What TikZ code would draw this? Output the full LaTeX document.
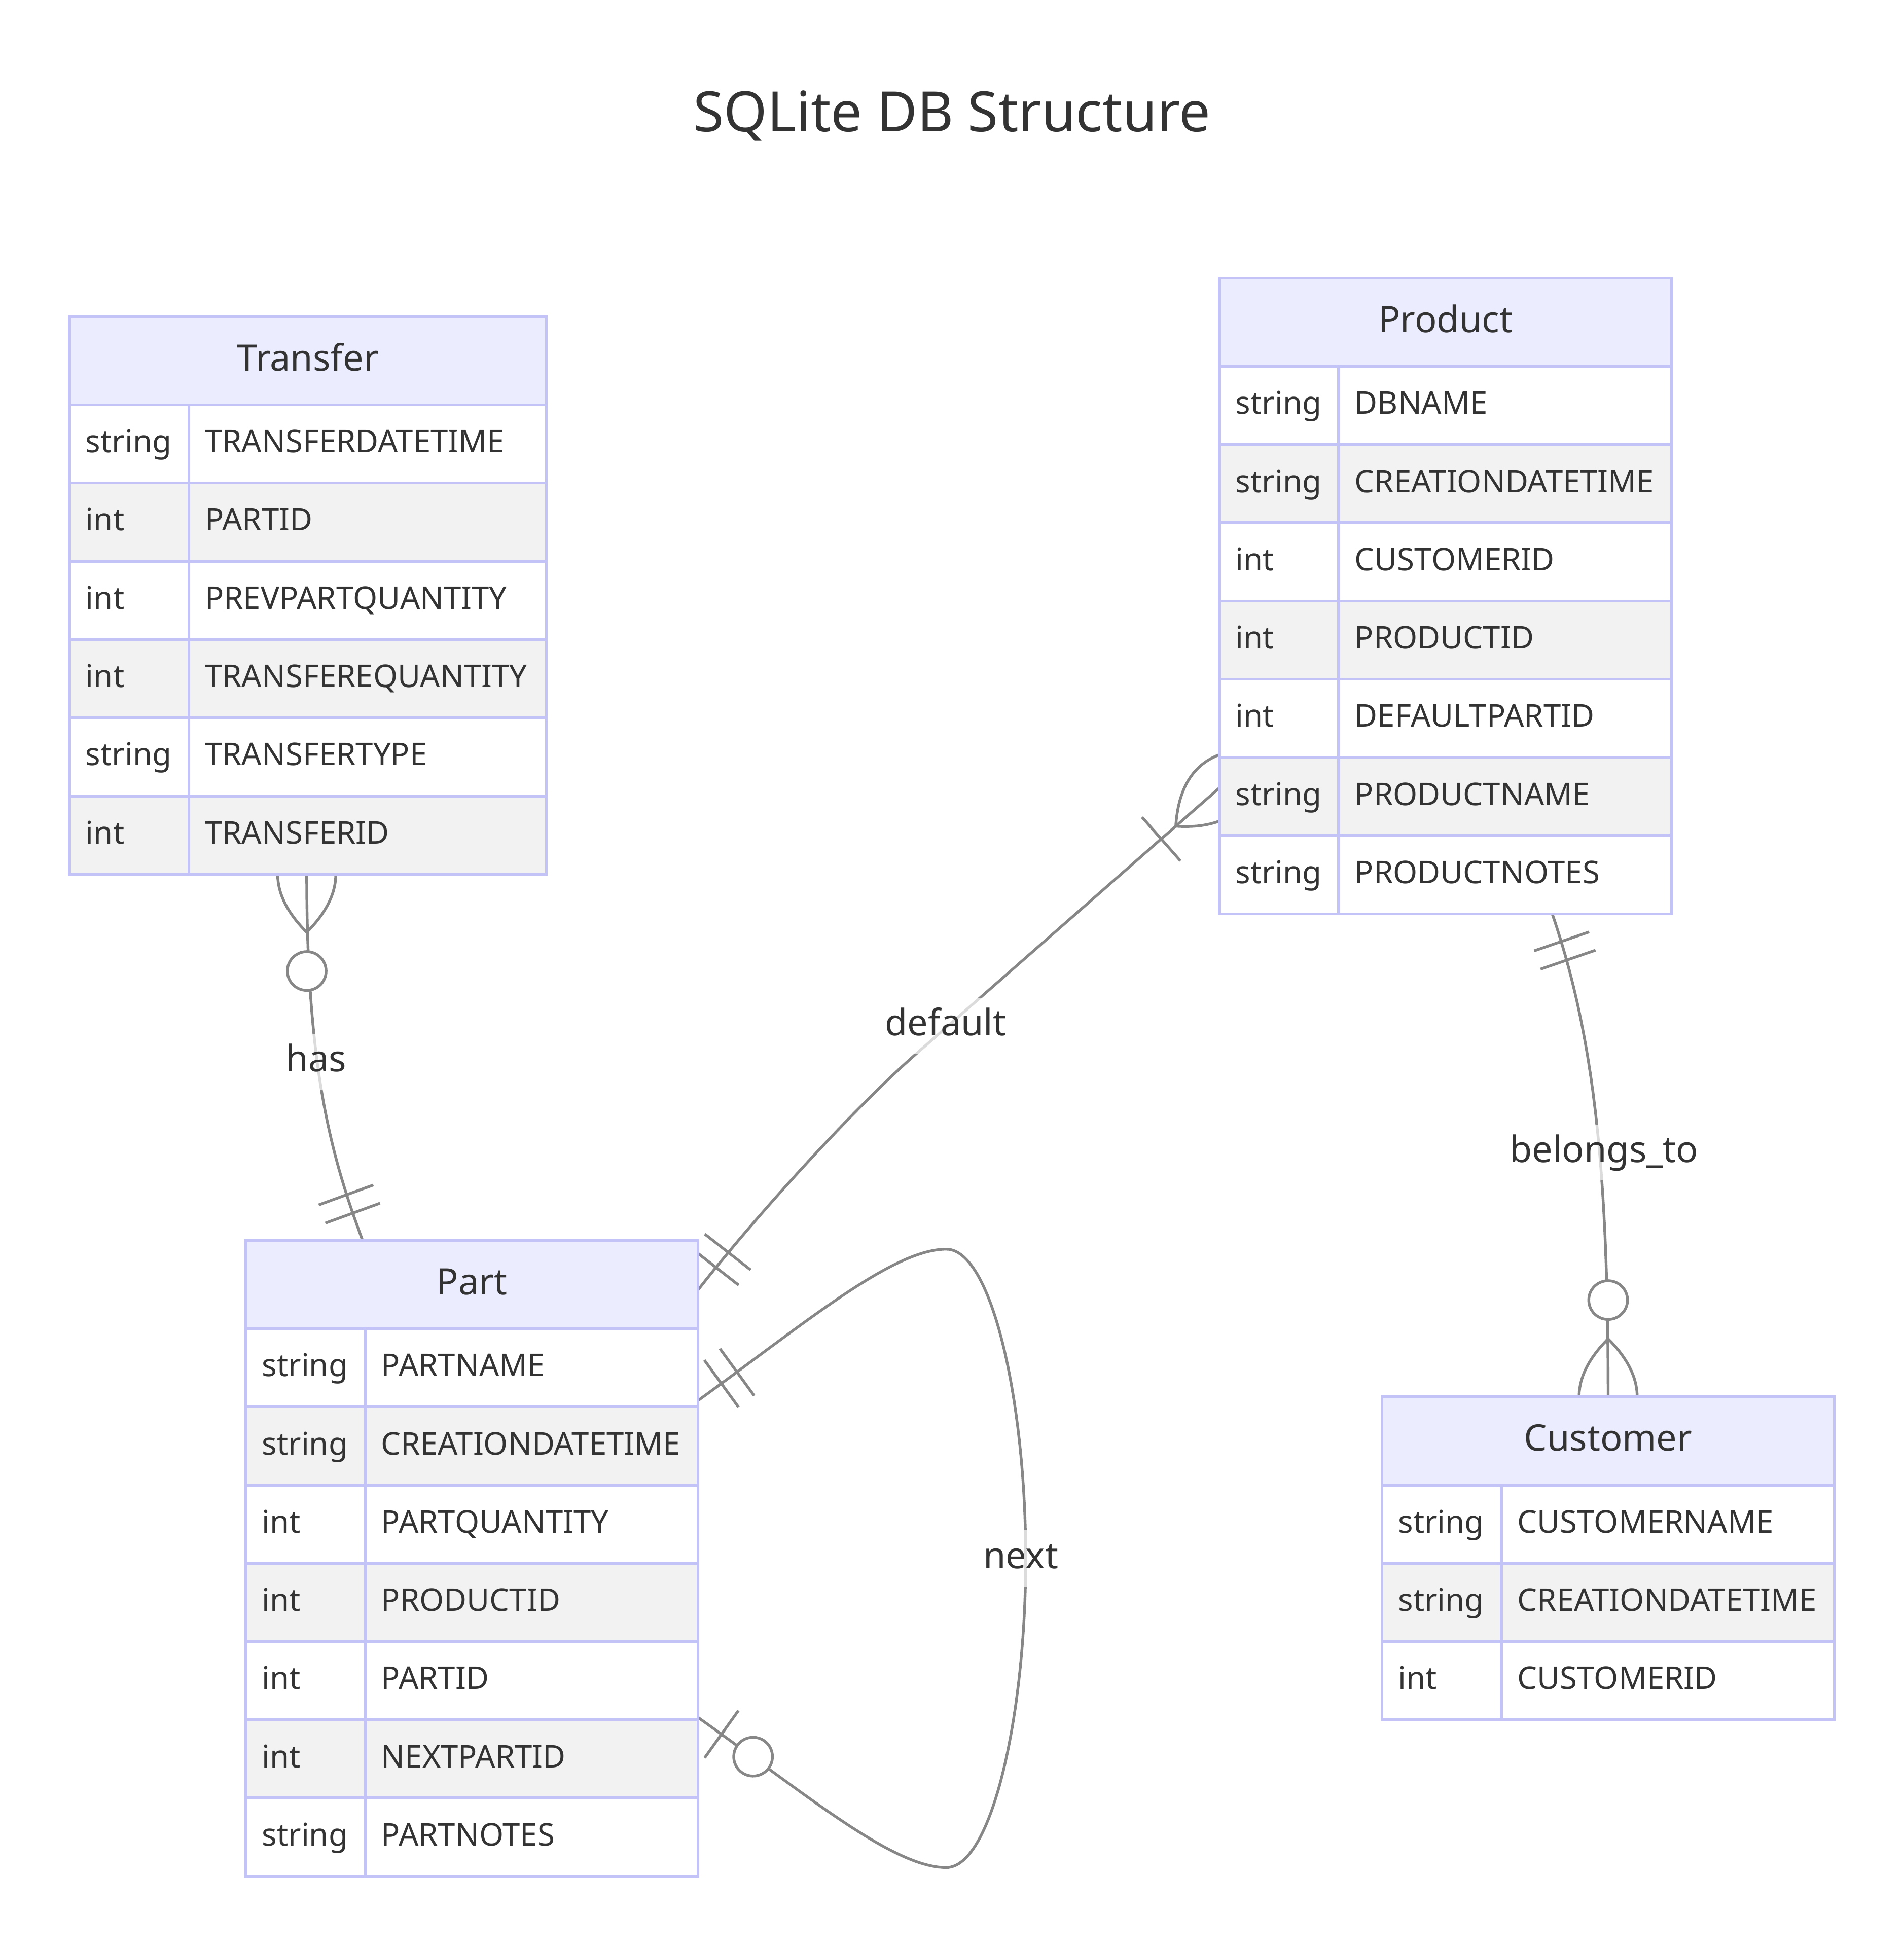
\documentclass[tikz,border=0pt]{standalone}
\usepackage{fontspec}
\setmainfont{Noto Sans}
\usepackage{xcolor}
\usepackage{tikz}
\usetikzlibrary{positioning,calc,backgrounds}

\definecolor{erborder}{HTML}{C3C3F8}
\definecolor{erhead}{HTML}{ECECFF}
\definecolor{errow}{HTML}{F2F2F2}
\definecolor{erline}{HTML}{878787}
\definecolor{ertext}{HTML}{333333}

\begin{document}
\begin{tikzpicture}[
  x=0.5pt, y=-0.5pt,
  every node/.style={text=ertext},
  ent/.style={
    rectangle, draw=erborder, fill=erhead, line width=1.1pt,
    minimum height=35.5pt, inner sep=0pt, outer sep=0pt, anchor=north west,
    text height=11pt, text depth=3pt, font=\fontsize{14.7}{17}\selectfont
  },
  cell/.style={
    rectangle, draw=erborder, line width=1.1pt, minimum height=31.5pt,
    inner xsep=6.5pt, inner ysep=0pt, outer sep=0pt, align=left,
    text height=10pt, text depth=3pt, font=\fontsize{12.6}{15}\selectfont
  },
  typ/.style={cell, text width=35pt, anchor=north west},
  fld/.style={cell, text width=#1},
  rel/.style={draw=erline, line width=1.1pt},
  lbl/.style={
    fill=white, fill opacity=0.7, text opacity=1, inner xsep=1pt,
    minimum height=22.5pt, text height=11pt, text depth=3pt,
    font=\fontsize{14.7}{17}\selectfont
  },
  onlyone/.pic={\draw[rel] (9,-9) -- (9,9) (15,-9) -- (15,9);},
  zeroone/.pic={\draw[rel] (9,-9) -- (9,9);
    \draw[rel, fill=white] (21,0) circle[radius=6];},
  onemany/.pic={\draw[rel] (-18,0) .. controls (-6,-12) and (6,-12) .. (18,0)
    .. controls (6,12) and (-6,12) .. (-18,0) (24,-9) -- (24,9);},
  zeromany/.pic={\draw[rel] (-18,0) .. controls (-6,-12) and (6,-12) .. (18,0)
    .. controls (6,12) and (-6,12) .. (-18,0);
    \draw[rel, fill=white] (30,0) circle[radius=6];}
]
\useasboundingbox (0,0) rectangle (1533,1568);

% --- title ---
\node[font=\fontsize{22.4}{27}\selectfont, anchor=base] (title) at (766.5,106) {SQLite DB Structure};

% --- Transfer ---
\node[ent, minimum width=192pt] (tr) at (56,255) {Transfer};
\foreach \ty/\nm [count=\i] in {string/TRANSFERDATETIME, int/PARTID,
    int/PREVPARTQUANTITY, int/TRANSFEREQUANTITY, string/TRANSFERTYPE, int/TRANSFERID} {
  \ifodd\i \def\rc{white}\else \def\rc{errow}\fi
  \node[typ, fill=\rc] (tr-t\i) at ($(tr.south west)+(0,{(\i-1)*63})$) {\ty};
  \node[fld=131pt, fill=\rc, right=0pt of tr-t\i] (tr-f\i) {\nm};
}

% --- Product ---
\node[ent, minimum width=182pt] (pr) at (982,224) {Product};
\foreach \ty/\nm [count=\i] in {string/DBNAME, string/CREATIONDATETIME,
    int/CUSTOMERID, int/PRODUCTID, int/DEFAULTPARTID, string/PRODUCTNAME, string/PRODUCTNOTES} {
  \ifodd\i \def\rc{white}\else \def\rc{errow}\fi
  \node[typ, fill=\rc] (pr-t\i) at ($(pr.south west)+(0,{(\i-1)*63})$) {\ty};
  \node[fld=121pt, fill=\rc, right=0pt of pr-t\i] (pr-f\i) {\nm};
}

% --- Part ---
\node[ent, minimum width=182pt] (pa) at (198,999) {Part};
\foreach \ty/\nm [count=\i] in {string/PARTNAME, string/CREATIONDATETIME,
    int/PARTQUANTITY, int/PRODUCTID, int/PARTID, int/NEXTPARTID, string/PARTNOTES} {
  \ifodd\i \def\rc{white}\else \def\rc{errow}\fi
  \node[typ, fill=\rc] (pa-t\i) at ($(pa.south west)+(0,{(\i-1)*63})$) {\ty};
  \node[fld=121pt, fill=\rc, right=0pt of pa-t\i] (pa-f\i) {\nm};
}

% --- Customer ---
\node[ent, minimum width=182pt] (cu) at (1113,1125) {Customer};
\foreach \ty/\nm [count=\i] in {string/CUSTOMERNAME, string/CREATIONDATETIME, int/CUSTOMERID} {
  \ifodd\i \def\rc{white}\else \def\rc{errow}\fi
  \node[typ, fill=\rc] (cu-t\i) at ($(cu.south west)+(0,{(\i-1)*63})$) {\ty};
  \node[fld=121pt, fill=\rc, right=0pt of cu-t\i] (cu-f\i) {\nm};
}

% --- relationship ends ---
\coordinate (has-a) at ($(tr-f6.south west)+(95,0)$);
\coordinate (has-b) at ($(pa.north west)+(94,0)$);
\coordinate (def-a) at ($(pr-t6.west)+(0,-7)$);
\coordinate (def-b) at ($(pa.east)+(0,4.5)$);
\coordinate (bel-a) at ($(pr-f7.south west)+(172,0)$);
\coordinate (bel-b) at (cu.north);
\coordinate (nxt-a) at ($(pa-f1.south east)+(0,-5)$);
\coordinate (nxt-b) at ($(pa-f5.south east)+(0,-2)$);

% --- labels ---
\node[lbl] (lb-has) at (254.5,855) {has};
\node[lbl] (lb-def) at (761.5,826) {default};
\node[lbl] (lb-bel) at (1291.6,928) {belongs\_to};
\node[lbl] (lb-nxt) at (822,1255) {next};

% --- connectors, behind the tables ---
\begin{scope}[on background layer]
  \fill[white] (0,0) rectangle (1533,1568);
  \draw[rel] (has-a) .. controls +(0,155) and +(-26,-70) .. (has-b);
  \draw[rel] (def-a) -- ++(-244,214) .. controls +(-57,50) and +(38,-49) .. (def-b);
  \draw[rel] (bel-a) .. controls +(35,102) and +(0,-175) .. (bel-b);
  \draw[rel] (nxt-a) .. controls +(87,-63) and +(-43,0) .. ++(200,-122)
    .. controls +(37,0) and +(0,-125) .. ++(64,249)
    .. controls +(0,125) and +(37,0) .. ++(-64,249)
    .. controls +(-43,0) and +(87,62) .. (nxt-b);
  \foreach \m/\at/\ang in {zeromany/has-a/-90, onlyone/has-b/110,
      onemany/def-a/-138.7, onlyone/def-b/52, onlyone/bel-a/-71,
      zeromany/bel-b/90, onlyone/nxt-a/36, zeroone/nxt-b/-35.5}
    \pic[rotate=\ang, scale=2.6] at (\at) {\m};
\end{scope}

\end{tikzpicture}
\end{document}
